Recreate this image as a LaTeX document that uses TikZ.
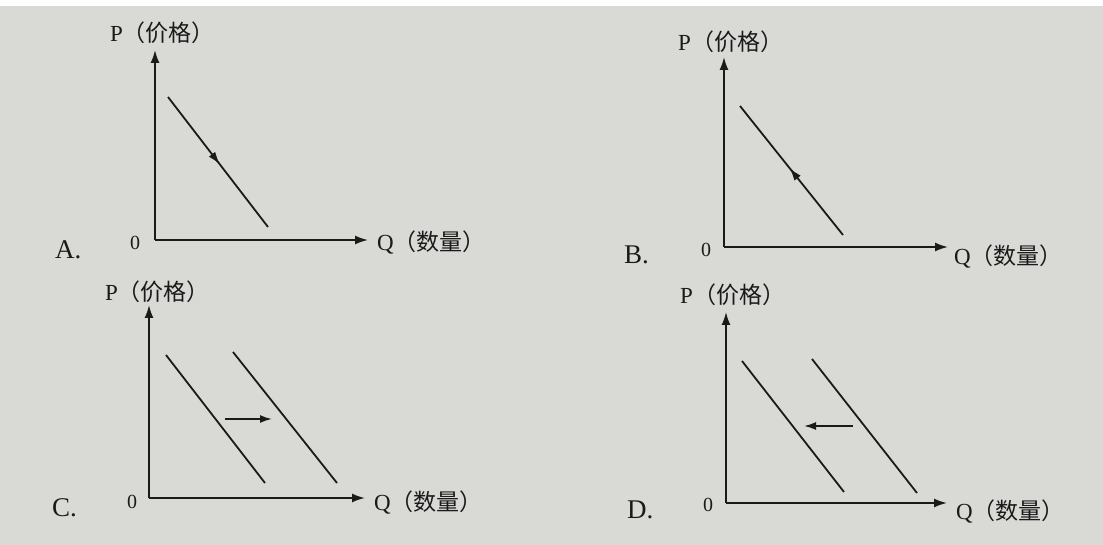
\documentclass[tikz,border=0pt]{standalone}
\usepackage{fontspec}
\setmainfont{Liberation Serif}
\newfontfamily\cjk{Noto Sans CJK SC}
\usetikzlibrary{arrows.meta,decorations.markings}
\definecolor{paper}{HTML}{D9D9D6}
\definecolor{ink}{HTML}{1A1A1A}

\begin{document}
\begin{tikzpicture}[x=1pt, y=-1pt,
    % Axes, demand lines and shift arrows
    axis/.style={line width=1.8pt, draw=ink, -{Latex[length=13pt,width=9pt]}},
    demand/.style={line width=1.8pt, draw=ink},
    shiftarrow/.style={line width=1.8pt, draw=ink, -{Latex[length=12pt,width=8pt]}},
    midfwd/.style={postaction={decorate}, decoration={markings, mark=at position #1 with {\arrow{Latex[length=13pt,width=8pt]}}}},
    midback/.style={postaction={decorate}, decoration={markings, mark=at position #1 with {\arrowreversed{Latex[length=13pt,width=8pt]}}}},
    % Labels
    axlabel/.style={text=ink, font=\fontsize{23}{23}\selectfont, inner sep=0pt, anchor=west},
    zero/.style={text=ink, font=\fontsize{20}{20}\selectfont, inner sep=0pt},
    choice/.style={text=ink, font=\fontsize{27}{27}\selectfont, inner sep=0pt, anchor=west}
]

% ---------------------------------------------------------
% 0. PAPER
% ---------------------------------------------------------
\useasboundingbox (0,0) rectangle (1103,545);
\fill[white] (0,0) rectangle (1103,545);
\fill[paper] (0,6) rectangle (1103,545);

% ---------------------------------------------------------
% 1. GRAPH A (movement down the curve)
% ---------------------------------------------------------
\coordinate (Ao) at (155,240);
\coordinate (Ap) at (155,50);
\coordinate (Aq) at (368,240);
\coordinate (Ad1) at (168,97);
\coordinate (Ad2) at (268,227);
\draw[axis] (Ao) -- (Ap);
\draw[axis] (Ao) -- (Aq);
\draw[demand, midfwd=0.52] (Ad1) -- (Ad2);

\node[axlabel] (Aplabel) at (110,33) {P\cjk（价格）};
\node[axlabel] (Aqlabel) at (377,243) {Q\cjk（数量）};
\node[zero] (Azero) at (135,243) {0};
\node[choice] (Achoice) at (55,250) {A.};

% ---------------------------------------------------------
% 2. GRAPH B (movement up the curve)
% ---------------------------------------------------------
\coordinate (Bo) at (724,247);
\coordinate (Bp) at (724,57);
\coordinate (Bq) at (948,247);
\coordinate (Bd1) at (740,106);
\coordinate (Bd2) at (843,235);
\draw[axis] (Bo) -- (Bp);
\draw[axis] (Bo) -- (Bq);
\draw[demand, midback=0.48] (Bd1) -- (Bd2);

\node[axlabel] (Bplabel) at (678,42) {P\cjk（价格）};
\node[axlabel] (Bqlabel) at (954,257) {Q\cjk（数量）};
\node[zero] (Bzero) at (706,250) {0};
\node[choice] (Bchoice) at (624,255) {B.};

% ---------------------------------------------------------
% 3. GRAPH C (curve shifts right)
% ---------------------------------------------------------
\coordinate (Co) at (149,498);
\coordinate (Cp) at (149,305);
\coordinate (Cq) at (365,498);
\coordinate (Cd1) at (166,355);
\coordinate (Cd2) at (265,483);
\coordinate (Ce1) at (233,352);
\coordinate (Ce2) at (337,483);
\coordinate (Cs1) at (225,419);
\coordinate (Cs2) at (272,419);
\draw[axis] (Co) -- (Cp);
\draw[axis] (Co) -- (Cq);
\draw[demand] (Cd1) -- (Cd2);
\draw[demand] (Ce1) -- (Ce2);
\draw[shiftarrow] (Cs1) -- (Cs2);

\node[axlabel] (Cplabel) at (105,292) {P\cjk（价格）};
\node[axlabel] (Cqlabel) at (374,503) {Q\cjk（数量）};
\node[zero] (Czero) at (132,502) {0};
\node[choice] (Cchoice) at (52,508) {C.};

% ---------------------------------------------------------
% 4. GRAPH D (curve shifts left)
% ---------------------------------------------------------
\coordinate (Do) at (726,503);
\coordinate (Dp) at (726,312);
\coordinate (Dq) at (947,503);
\coordinate (Dd1) at (742,361);
\coordinate (Dd2) at (844,492);
\coordinate (De1) at (812,359);
\coordinate (De2) at (917,493);
\coordinate (Ds1) at (853,426);
\coordinate (Ds2) at (804,426);
\draw[axis] (Do) -- (Dp);
\draw[axis] (Do) -- (Dq);
\draw[demand] (Dd1) -- (Dd2);
\draw[demand] (De1) -- (De2);
\draw[shiftarrow] (Ds1) -- (Ds2);

\node[axlabel] (Dplabel) at (680,295) {P\cjk（价格）};
\node[axlabel] (Dqlabel) at (956,512) {Q\cjk（数量）};
\node[zero] (Dzero) at (708,505) {0};
\node[choice] (Dchoice) at (627,510) {D.};

\end{tikzpicture}
\end{document}
